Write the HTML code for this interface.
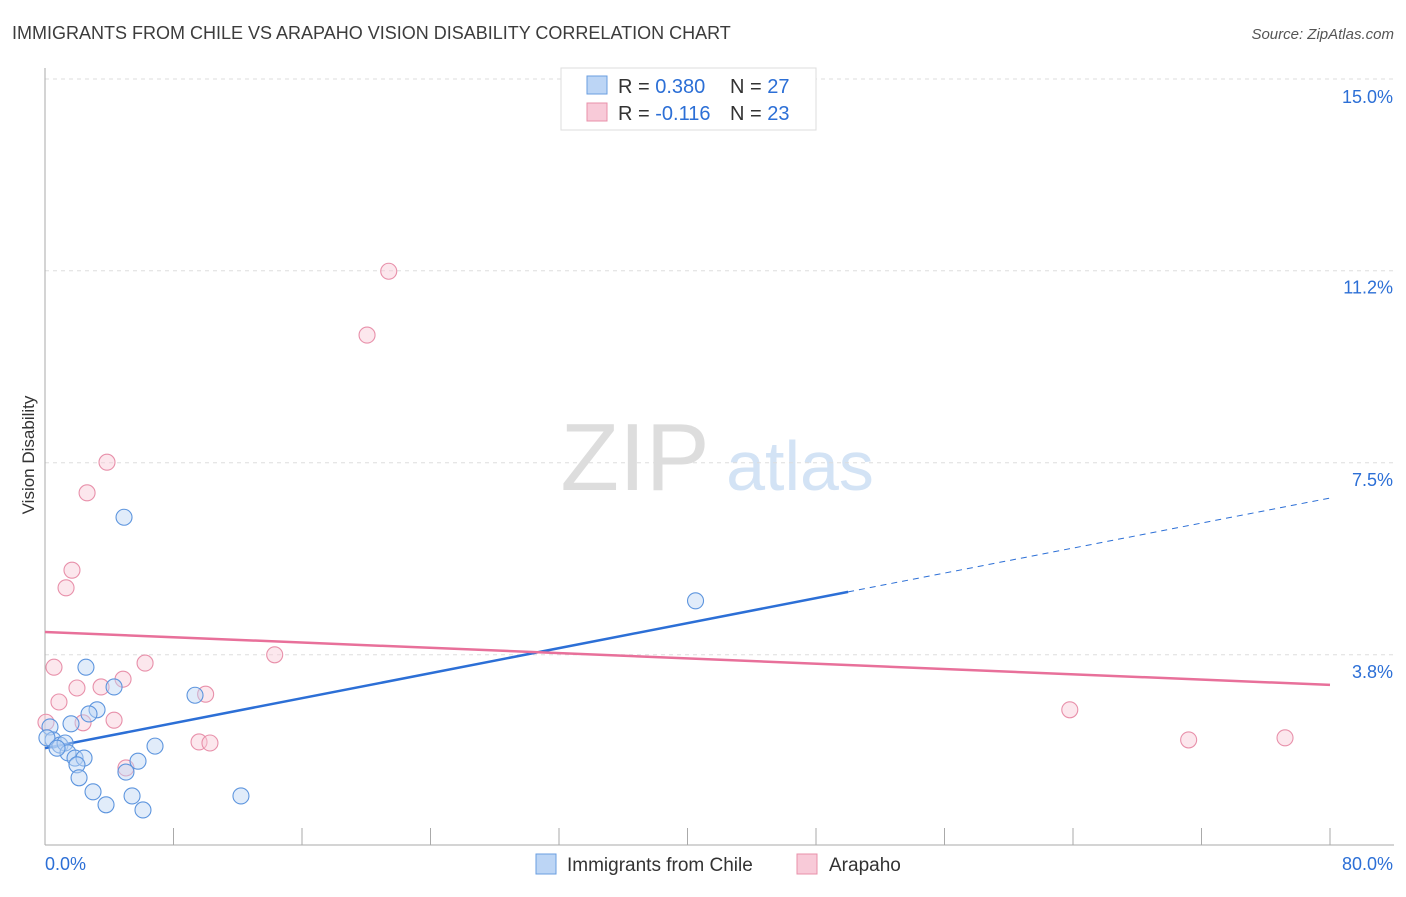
<!DOCTYPE html>
<html><head><meta charset="utf-8"><style>
body{margin:0;background:#fff;font-family:"Liberation Sans",sans-serif}
svg text{font-family:"Liberation Sans",sans-serif}
</style></head><body>
<svg id="c" width="1406" height="892">
<text x="12" y="39" font-size="18" fill="#3c3c3c">IMMIGRANTS FROM CHILE VS ARAPAHO VISION DISABILITY CORRELATION CHART</text>
<text x="1394" y="39" font-size="15" fill="#555" text-anchor="end" font-style="italic">Source: ZipAtlas.com</text>
<text x="0" y="0" transform="translate(34,455) rotate(-90)" font-size="17" fill="#333" text-anchor="middle">Vision Disability</text>
<g><text x="635" y="490" font-size="96" fill="#ddd" text-anchor="middle" font-family="Liberation Serif">ZIP</text><text x="800" y="490" font-size="70" fill="#d3e3f5" text-anchor="middle">atlas</text></g>
<g id="grid"></g><g id="axes"></g><g id="lines"></g><g id="pts"></g>
<g>
<rect x="561" y="68" width="255" height="62" fill="#fff" stroke="#ddd"/>
<rect x="587" y="76" width="20" height="18" fill="#bcd5f5" stroke="#6a9ee0"/>
<text x="618" y="93" font-size="20" fill="#333">R = <tspan fill="#2c6fd6">0.380</tspan></text>
<text x="730" y="93" font-size="20" fill="#333">N = <tspan fill="#2c6fd6">27</tspan></text>
<rect x="587" y="103" width="20" height="18" fill="#f8cad8" stroke="#e890aa"/>
<text x="618" y="120" font-size="20" fill="#333">R = <tspan fill="#2c6fd6">-0.116</tspan></text>
<text x="730" y="120" font-size="20" fill="#333">N = <tspan fill="#2c6fd6">23</tspan></text>
</g>
<g>
<rect x="536" y="854" width="20" height="20" fill="#bcd5f5" stroke="#6a9ee0"/>
<text x="567" y="871" font-size="19" fill="#333">Immigrants from Chile</text>
<rect x="797" y="854" width="20" height="20" fill="#f8cad8" stroke="#e890aa"/>
<text x="829" y="871" font-size="19" fill="#333">Arapaho</text>
</g>
</svg>
<script>
const yTicks=[3.8,7.5,11.2,15.0];
const xTickCount=10;
const chileX=[4.92,40.5,2.55,4.30,9.34,3.24,2.74,1.62,0.31,0.50,0.93,1.25,1.43,1.87,2.43,1.99,6.85,5.79,5.04,2.12,2.99,3.80,5.42,6.10,12.2,0.12,0.75];
const chileY=[6.45,4.84,3.56,3.18,3.02,2.74,2.66,2.47,2.41,2.16,2.06,2.10,1.91,1.81,1.81,1.68,2.04,1.75,1.54,1.43,1.16,0.91,1.08,0.81,1.08,2.20,2.00];
const araX=[21.4,20.05,3.86,2.62,1.68,1.31,0.56,6.23,14.3,4.86,3.49,1.99,0.87,10.0,4.30,2.37,0.06,9.59,10.27,5.04,63.8,71.2,77.2];
const araY=[11.19,9.96,7.51,6.92,5.43,5.09,3.56,3.64,3.80,3.33,3.18,3.16,2.89,3.04,2.54,2.49,2.50,2.12,2.10,1.62,2.74,2.16,2.20];
const chileTrend=[2.0,6.82];
const araTrend=[4.24,3.22];
const NS='http://www.w3.org/2000/svg';
const X=v=>45+v*16.0625, Y=v=>852-v*51.9;
function mk(p,t,a){const e=document.createElementNS(NS,t);for(const k in a)e.setAttribute(k,a[k]);p.appendChild(e);return e;}
const grid=document.getElementById('grid'),axes=document.getElementById('axes'),lines=document.getElementById('lines'),pts=document.getElementById('pts');
yTicks.forEach(v=>{
 const gy=(v==15?79:Y(v));
 const g=mk(grid,'line',{x1:45,x2:1394,y1:gy,y2:gy,stroke:'#ddd','stroke-dasharray':'4,4'});
 
 
 const t=mk(grid,'text',{x:1393,y:gy+(v==15?24:23),'font-size':18,fill:'#2c6fd6','text-anchor':'end'});
 t.textContent=v.toFixed(1)+'%';
 
 
});
mk(axes,'line',{x1:45,x2:45,y1:68,y2:845,stroke:'#aaa'});
mk(axes,'line',{x1:45,x2:1394,y1:845,y2:845,stroke:'#aaa'});
for(let i=1;i<=xTickCount;i++){const tk=mk(axes,'line',{x1:X(i*8),x2:X(i*8),y1:828,y2:845,stroke:'#aaa'});
 
 }
let t0=mk(axes,'text',{x:45,y:870,'font-size':18,fill:'#2c6fd6'});t0.textContent='0.0%';


let t1=mk(axes,'text',{x:1393,y:870,'font-size':18,fill:'#2c6fd6','text-anchor':'end'});t1.textContent='80.0%';


function pt(x,y,fill,stroke,name){const c=mk(pts,'circle',{cx:X(x),cy:Y(y),r:8,fill:fill,'fill-opacity':0.45,stroke:stroke,'stroke-width':1.1});
 
 }
araX.forEach((x,i)=>pt(x,araY[i],'#f8cad8','#e890aa','arapaho-point'));
chileX.forEach((x,i)=>pt(x,chileY[i],'#bcd5f5','#5d95de','chile-point'));
const interp=(tr,x)=>tr[0]+(tr[1]-tr[0])*x/80;
const l1=mk(lines,'line',{x1:X(0),y1:Y(chileTrend[0]),x2:X(50),y2:Y(interp(chileTrend,50)),stroke:'#2c6fd6','stroke-width':2.5});


const l2=mk(lines,'line',{x1:X(50),y1:Y(interp(chileTrend,50)),x2:X(80),y2:Y(chileTrend[1]),stroke:'#2c6fd6','stroke-width':1,'stroke-dasharray':'6,5'});


const l3=mk(lines,'line',{x1:X(0),y1:Y(araTrend[0]),x2:X(80),y2:Y(araTrend[1]),stroke:'#e8709a','stroke-width':2.5});


</script>
</body></html>
